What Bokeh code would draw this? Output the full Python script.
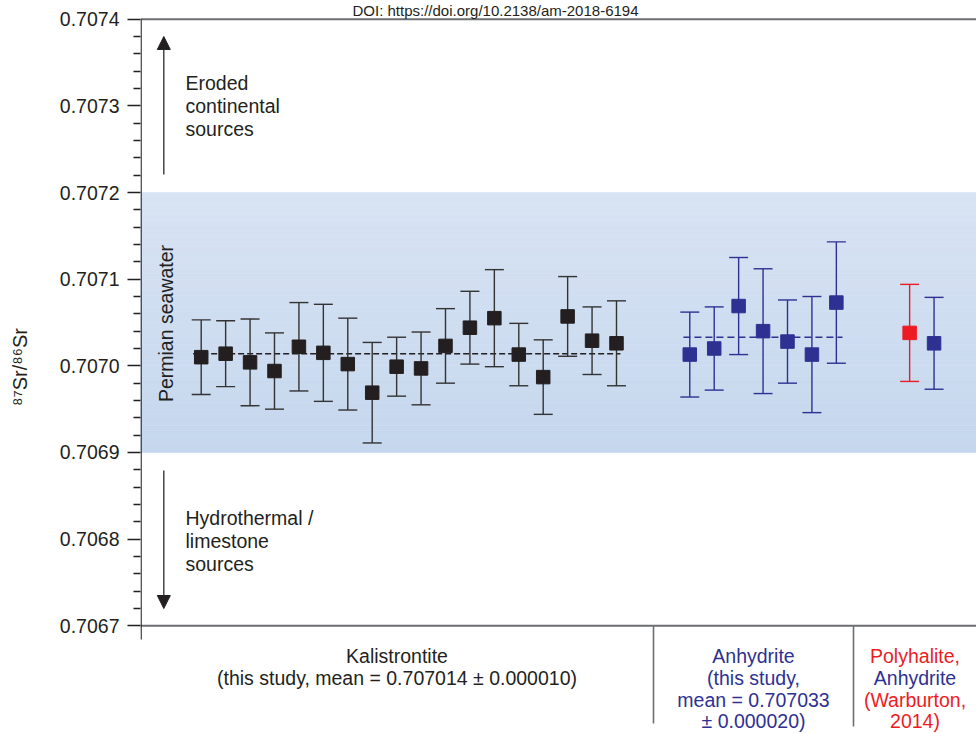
import numpy as np
from bokeh.plotting import figure
from bokeh.models import (Range1d, FixedTicker, PrintfTickFormatter, Arrow, NormalHead,
                          ColumnDataSource)
from bokeh.core.properties import value
from bokeh.embed import file_html
from bokeh.resources import INLINE

# ---------------- data ----------------
kal_x = list(range(1, 19))
kal_val = [0.707010, 0.707014, 0.707004, 0.706994, 0.707022, 0.707015, 0.707002, 0.706969, 0.706999,
           0.706997, 0.707023, 0.707044, 0.707055, 0.707013, 0.706987, 0.707057, 0.707029, 0.707026]
kal_err = [0.000043, 0.000038, 0.000050, 0.000044, 0.000051, 0.000056, 0.000053, 0.000058, 0.000034,
           0.000042, 0.000043, 0.000042, 0.000056, 0.000036, 0.000043, 0.000046, 0.000039, 0.000049]
kal_mean = 0.707014

anh_x = [21, 22, 23, 24, 25, 26, 27]
anh_val = [0.707013, 0.707020, 0.707069, 0.707040, 0.707028, 0.707013, 0.707073]
anh_err = [0.000049, 0.000048, 0.000056, 0.000072, 0.000048, 0.000067, 0.000070]
anh_mean = 0.707033

war_poly_x = [30]
war_poly_val = [0.707038]
war_poly_err = [0.000056]
war_anh_x = [31]
war_anh_val = [0.707026]
war_anh_err = [0.000053]

y_ticks = [0.7067, 0.7068, 0.7069, 0.7070, 0.7071, 0.7072, 0.7073, 0.7074]
seawater_band = (0.7069, 0.7072)

# ---------------- style / layout ----------------
FONT = "Liberation Sans"
BLACK = "#231f20"
BLUE = "#2e3192"
RED = "#ed1c24"
GRAY = "#6d6e71"
FS = "19.5px"

W, H = 976, 733
FL = 140.0                      # page x of the y axis
PY_TOP, PY_BOT = 18.7, 625.3    # page y of 0.7074 and 0.7067
X0, X1 = -1.485, 32.737         # data x at page 140 and 976
YA, YB = y_ticks[-1], y_ticks[0]
S = (YA - YB) / (PY_BOT - PY_TOP)
Y_TOP = YA + PY_TOP * S
Y_BOT = YB - (H - PY_BOT) * S


def px2x(px):
    return X0 + (px - FL) / (W - FL) * (X1 - X0)


def py2y(py):
    return Y_TOP - py * S


p = figure(width=W, height=H, x_range=Range1d(X0, X1), y_range=Range1d(Y_BOT, Y_TOP),
           output_backend="svg", toolbar_location=None, x_axis_location=None,
           min_border_left=int(FL), min_border_right=0, min_border_top=0, min_border_bottom=0)
p.grid.visible = False
p.outline_line_color = None
p.background_fill_color = "white"
p.border_fill_color = "white"

# seawater band (vertical gradient approximated with slices)
n = 48
edges = np.linspace(seawater_band[0], seawater_band[1], n + 1)
c_bot = np.array([197, 215, 238])
c_top = np.array([216, 227, 243])
cols = []
for i in range(n):
    t = (i + 0.5) / n
    c = (c_bot * (1 - t) + c_top * t).round().astype(int)
    cols.append("#%02x%02x%02x" % tuple(c))
p.quad(left=X0, right=X1, bottom=edges[:-1], top=edges[1:], fill_color=cols,
       line_color=cols, line_width=0.6)

# frame lines (top and bottom), y-axis line and category separators
p.line([X0, X1], [YA, YA], line_color=GRAY, line_width=2)
p.line([X0, X1], [YB, YB], line_color=GRAY, line_width=2)
xl = px2x(FL + 0.6)
p.line([xl, xl], [YA, py2y(639)], line_color=BLACK, line_width=1.3)
sep_x = [px2x(653), px2x(853)]
sep_bottom = [py2y(723), py2y(726)]
p.segment(x0=sep_x, y0=[YB, YB], x1=sep_x, y1=sep_bottom, line_color=GRAY, line_width=1.6)

# mean lines
p.line([kal_x[0] - 0.33, kal_x[-1] + 0.16], [kal_mean, kal_mean], line_color=BLACK,
       line_dash="6 3", line_width=1.4)
p.line([anh_x[0] - 0.26, anh_x[-1] + 0.25], [anh_mean, anh_mean], line_color=BLUE,
       line_dash="7 4", line_width=1.4)


def series(xs, vals, errs, color, lcolor):
    vals = np.array(vals)
    errs = np.array(errs)
    lo = vals - errs
    hi = vals + errs
    p.segment(x0=xs, y0=lo, x1=xs, y1=hi, line_color=lcolor, line_width=1.4)
    p.scatter(x=list(xs) * 2, y=list(lo) + list(hi), marker="dash", size=19,
              line_color=lcolor, line_width=1.4)
    p.scatter(x=xs, y=vals, marker="square", size=13.5, fill_color=color, line_color=color)


series(kal_x, kal_val, kal_err, BLACK, "#333333")
series(anh_x, anh_val, anh_err, BLUE, BLUE)
series(war_poly_x, war_poly_val, war_poly_err, RED, RED)
series(war_anh_x, war_anh_val, war_anh_err, BLUE, BLUE)

# y axis
yax = p.yaxis[0]
minor = []
for a, b in zip(y_ticks[:-1], y_ticks[1:]):
    minor += list(np.linspace(a, b, 6)[1:-1])
yax.ticker = FixedTicker(ticks=y_ticks, minor_ticks=minor)
yax.formatter = PrintfTickFormatter(format="%.4f")
yax.major_tick_out = 13
yax.major_tick_in = 0
yax.minor_tick_out = 7
yax.minor_tick_in = 0
yax.major_tick_line_color = BLACK
yax.minor_tick_line_color = BLACK
yax.major_tick_line_width = 1.3
yax.minor_tick_line_width = 1.3
yax.axis_line_color = None
yax.major_label_standoff = 8
yax.major_label_text_font = FONT
yax.major_label_text_font_size = FS
yax.major_label_text_color = BLACK
yax.axis_label = "⁸⁷Sr/⁸⁶Sr"
yax.axis_label_text_font = FONT
yax.axis_label_text_font_size = "20px"
yax.axis_label_text_font_style = "normal"
yax.axis_label_text_color = BLACK
yax.axis_label_standoff = 26

# direction arrows
ax = px2x(163.3)
p.add_layout(Arrow(end=NormalHead(size=13, fill_color=BLACK, line_color=BLACK),
                   x_start=ax, y_start=py2y(174), x_end=ax, y_end=py2y(36),
                   line_color="#3a3a3a", line_width=1.4))
p.add_layout(Arrow(end=NormalHead(size=13, fill_color=BLACK, line_color=BLACK),
                   x_start=ax, y_start=py2y(470), x_end=ax, y_end=py2y(608),
                   line_color="#3a3a3a", line_width=1.4))

# texts
left_txt = ["Eroded", "continental", "sources", "Hydrothermal /", "limestone", "sources"]
left_py = [82, 105, 128, 517, 540, 563]
p.text(x=[px2x(185)] * len(left_txt), y=[py2y(v) for v in left_py], text=left_txt,
       text_font=value(FONT), text_font_size=value(FS), text_color=BLACK,
       text_align="left", text_baseline="middle")

p.text(x=[px2x(165)], y=[py2y(323)], text=["Permian seawater"], angle=np.pi / 2,
       text_font=value(FONT), text_font_size=value(FS), text_color=BLACK,
       text_align="center", text_baseline="middle")

line_py = [655, 677, 699, 720]
kal_c = px2x((FL + 653) / 2)
anh_c = px2x((653 + 853) / 2)
pol_c = px2x((853 + W) / 2)
cat_text = ["Kalistrontite", "(this study, mean = 0.707014 ± 0.000010)",
            "Anhydrite", "(this study,", "mean = 0.707033", "± 0.000020)",
            "Polyhalite,", "Anhydrite", "(Warburton,", "2014)"]
cat_x = [kal_c] * 2 + [anh_c] * 4 + [pol_c] * 4
cat_y = [py2y(v) for v in line_py[:2] + line_py + line_py]
cat_col = [BLACK] * 2 + [BLUE] * 4 + [RED, BLUE, RED, RED]
src = ColumnDataSource(dict(x=cat_x, y=cat_y, text=cat_text, color=cat_col))
p.text(x="x", y="y", text="text", text_color="color", source=src,
       text_font=value(FONT), text_font_size=value(FS),
       text_align="center", text_baseline="middle")

p.text(x=[px2x(495)], y=[py2y(9.5)], text=["DOI: https://doi.org/10.2138/am-2018-6194"],
       text_font=value(FONT), text_font_size=value("15px"), text_color=BLACK,
       text_align="center", text_baseline="middle")

open("out.html", "w").write(file_html(p, INLINE))
